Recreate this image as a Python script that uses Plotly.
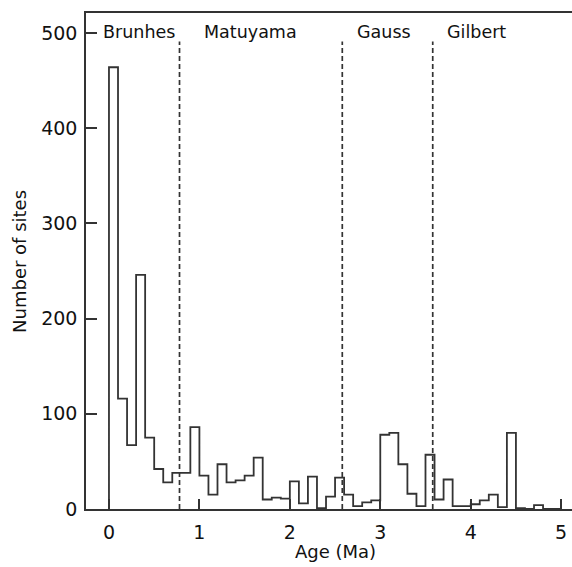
import plotly.graph_objects as go

# Histogram of site ages, 0.1 Ma bins starting at 0
bin_start = 0.0
bin_width = 0.1
counts = [464, 116, 67, 246, 75, 42, 28, 38, 38, 86,
          35, 15, 47, 28, 30, 35, 54, 10, 12, 11,
          29, 6, 34, 1, 13, 33, 15, 3, 7, 9,
          78, 80, 47, 16, 3, 57, 10, 31, 3, 3,
          5, 9, 15, 2, 80, 1, 0, 4, 0, 0]

# Polarity chron boundaries (Ma) and chron names
boundaries = [0.78, 2.58, 3.58]
chron_names = ["Brunhes", "Matuyama", "Gauss", "Gilbert"]
chron_label_x = [0.33, 1.56, 3.04, 4.065]

x_ticks = [0, 1, 2, 3, 4, 5]
y_ticks = [0, 100, 200, 300, 400, 500]

edges = [round(bin_start + i * bin_width, 3) for i in range(len(counts) + 1)]
xs = [edges[0]] + edges
ys = [0] + counts + [0]

LINE = "#333333"
FONT = "DejaVu Sans"

fig = go.Figure()
fig.add_trace(go.Scatter(x=xs, y=ys, mode="lines", line=dict(shape="hv", color=LINE, width=1.8),
                         hoverinfo="skip", showlegend=False))

for b in boundaries:
    fig.add_shape(type="line", xref="x", yref="y", x0=b, x1=b, y0=0, y1=491,
                  line=dict(color=LINE, width=1.7, dash="5px,3px"))

for name, lx in zip(chron_names, chron_label_x):
    fig.add_annotation(x=lx, y=501, xref="x", yref="y", text=name, showarrow=False,
                       xanchor="center", yanchor="middle",
                       font=dict(family=FONT, size=17.5, color="#111"))

fig.add_annotation(x=2.5, y=-0.086, xref="x", yref="paper", text="Age (Ma)", showarrow=False,
                   xanchor="center", yanchor="middle", font=dict(family=FONT, size=18, color="#111"))
fig.add_annotation(x=-0.138, y=0.5, xref="paper", yref="paper", text="Number of sites",
                   textangle=-90, showarrow=False, xanchor="center", yanchor="middle",
                   font=dict(family=FONT, size=18, color="#111"))

fig.update_xaxes(range=[-0.254, 5.12], tickvals=x_ticks, ticktext=[str(v) for v in x_ticks],
                 ticks="inside", ticklen=10, tickwidth=1.5, tickcolor=LINE,
                 showline=True, linecolor=LINE, linewidth=1.6, mirror=True,
                 showgrid=False, zeroline=False, ticklabelstandoff=5,
                 tickfont=dict(family=FONT, size=19, color="#111"))
fig.update_yaxes(range=[0, 521], tickvals=y_ticks, ticktext=[str(v) for v in y_ticks],
                 ticks="inside", ticklen=11, tickwidth=1.5, tickcolor=LINE,
                 showline=True, linecolor=LINE, linewidth=1.6, mirror=False,
                 showgrid=False, zeroline=False, ticklabelstandoff=3,
                 tickfont=dict(family=FONT, size=19, color="#111"))

fig.update_layout(width=572, height=567, margin=dict(l=86, r=0, t=13, b=58),
                  paper_bgcolor="white", plot_bgcolor="white")

fig.write_html("out.html")
